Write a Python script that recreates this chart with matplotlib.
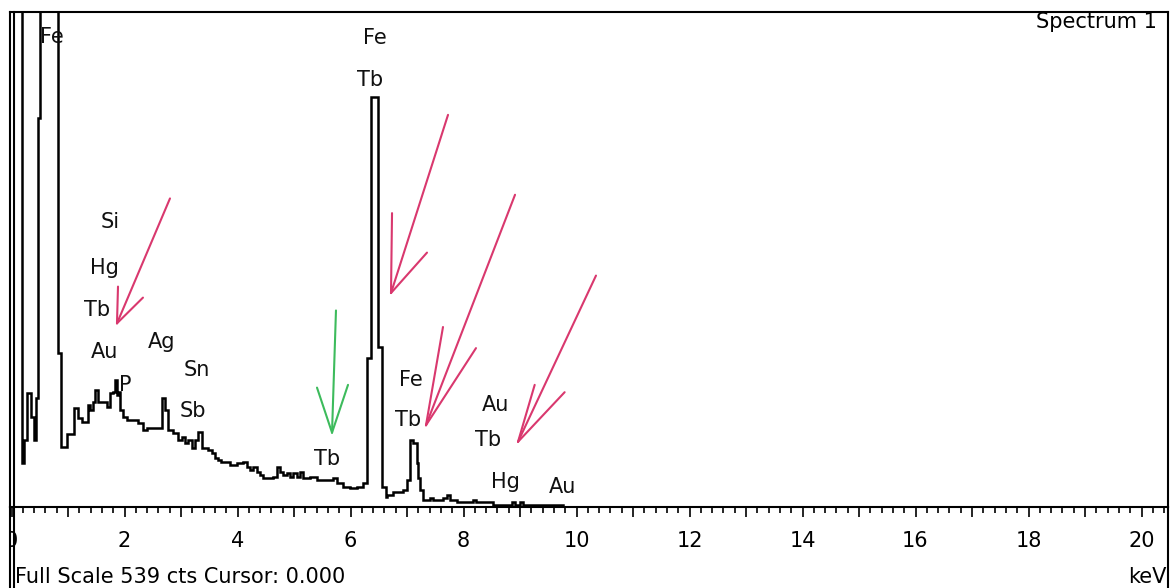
import matplotlib
matplotlib.use("Agg")
import matplotlib.pyplot as plt
from matplotlib.lines import Line2D
from matplotlib.ticker import MultipleLocator
from matplotlib.transforms import Bbox

# ---------------- data ----------------
energy_kev = [0.00, 0.19, 0.22, 0.28, 0.34, 0.39, 0.44, 0.47, 0.50, 0.82, 0.87,
              0.99, 1.11, 1.17, 1.24, 1.35, 1.39, 1.44, 1.48, 1.53, 1.69, 1.74,
              1.80, 1.83, 1.87, 1.89, 1.92, 1.97, 2.04, 2.24, 2.33, 2.40, 2.66,
              2.72, 2.77, 2.86, 2.95, 3.02, 3.07, 3.12, 3.19, 3.25, 3.30, 3.37,
              3.48, 3.55, 3.60, 3.65, 3.70, 3.87, 3.99, 4.10, 4.17, 4.22, 4.28,
              4.34, 4.40, 4.45, 4.63, 4.70, 4.75, 4.80, 4.88, 4.93, 4.98, 5.05,
              5.11, 5.16, 5.28, 5.41, 5.69, 5.76, 5.87, 5.99, 6.11, 6.22, 6.30,
              6.36, 6.49, 6.56, 6.63, 6.65, 6.75, 6.93, 7.00, 7.05, 7.11, 7.17,
              7.19, 7.23, 7.28, 7.41, 7.46, 7.64, 7.71, 7.76, 7.89, 8.16, 8.23,
              8.52, 8.86, 8.92, 9.00, 9.05, 9.76, 20.5]
counts = [1000, 48, 73, 124, 98, 73, 119, 424, 1500, 168, 65,
          80, 108, 97, 93, 111, 106, 114, 127, 114, 109, 124,
          125, 138, 122, 125, 106, 98, 95, 91, 84, 86, 119,
          106, 84, 81, 73, 76, 70, 73, 64, 73, 82, 64,
          62, 59, 53, 51, 49, 46, 48, 49, 44, 40, 44,
          38, 35, 32, 33, 44, 38, 35, 37, 33, 37, 33,
          38, 32, 33, 29, 32, 26, 22, 21, 22, 26, 162,
          446, 174, 22, 11, 13, 16, 19, 29, 73, 70, 48,
          32, 19, 8, 10, 8, 10, 13, 8, 5, 8, 5,
          2, 5, 2, 5, 2, 0, 0]
full_scale = 539
x_major = list(range(0, 21))
x_labels = [str(v) if v % 2 == 0 else "" for v in x_major]

# element labels: (text, keV, counts)
peak_labels = [("Fe", 0.72, 512), ("Fe", 6.43, 511), ("Tb", 6.34, 465),
               ("Si", 1.74, 310), ("Hg", 1.65, 260), ("Tb", 1.51, 214),
               ("Au", 1.65, 169), ("Ag", 2.66, 180), ("Sn", 3.28, 149),
               ("P", 2.02, 133), ("Sb", 3.21, 105), ("Tb", 5.58, 52),
               ("Fe", 7.07, 138), ("Tb", 7.02, 95), ("Au", 8.57, 111),
               ("Tb", 8.43, 73), ("Hg", 8.75, 27), ("Au", 9.76, 22)]

# hand-drawn arrows: tail, tip, head end a, head end b (keV, counts)
pink_arrows = [
    [(2.805, 336), (1.867, 200), (1.885, 240), (2.327, 228)],
    [(7.726, 427), (6.717, 233), (6.735, 320), (7.354, 277)],
    [(8.912, 340), (7.336, 89), (7.637, 196), (8.221, 173)],
    [(10.345, 252), (8.965, 71), (9.260, 133), (9.790, 125)],
]
green_arrows = [
    [(5.743, 214), (5.673, 81), (5.407, 130), (5.956, 133)],
]

# ---------------- figure ----------------
W, H = 1172, 588
fig = plt.figure(figsize=(W / 100, H / 100), dpi=100)
plt.rcParams['font.family'] = ['DejaVu Sans']
FS = 15


def fx(px):
    return px / W


def fy(py):
    return 1 - py / H


ax = fig.add_axes([fx(10), fy(507), fx(1168) - fx(10), fy(12) - fy(507)])
ax.set_xlim(-1.5 / 56.5, (1168 - 11.5) / 56.5)
ax.set_ylim(0, full_scale)

ax.plot(energy_kev, counts, drawstyle='steps-post', color='black', lw=1.8,
        solid_joinstyle='miter')

for arrows, col in ((pink_arrows, '#d9386e'), (green_arrows, '#3dbb5c')):
    for tail, tip, ha_, hb_ in arrows:
        for start in (tail, ha_, hb_):
            ax.plot([start[0], tip[0]], [start[1], tip[1]], color=col, lw=1.5,
                    solid_capstyle='round')

for txt, xv, yv in peak_labels:
    ax.text(xv, yv, txt, ha='center', va='center', fontsize=FS, color='#111111')

# axes styling
for side in ('top', 'left', 'right', 'bottom'):
    ax.spines[side].set_linewidth(1.5)
ax.set_yticks([])
ax.set_xticks(x_major, x_labels)
ax.xaxis.set_minor_locator(MultipleLocator(0.2))
ax.tick_params(axis='x', which='major', direction='out', length=7, width=1.2,
               labelsize=FS, pad=10)
ax.tick_params(axis='x', which='minor', direction='out', length=4, width=1.2)

# clip the "0" label at the frame edge
clip = Bbox.from_extents(10, 0, W, H)
for t in ax.xaxis.get_major_ticks():
    t.label1.set_clip_box(clip)
    t.label1.set_clip_on(True)

# outer frame continuing below the axis
frame_kw = dict(color='black', lw=1.5, transform=fig.transFigure)
fig.add_artist(Line2D([fx(10), fx(10)], [fy(507), fy(588)], **frame_kw))
fig.add_artist(Line2D([fx(14), fx(14)], [fy(12), fy(588)], **frame_kw))
fig.add_artist(Line2D([fx(1168), fx(1168)], [fy(507), fy(588)], **frame_kw))

fig.text(fx(1157), fy(22), "Spectrum 1", ha='right', va='center', fontsize=FS)
fig.text(fx(15), fy(577), f"Full Scale {full_scale} cts Cursor: 0.000",
         ha='left', va='center', fontsize=FS)
fig.text(fx(1166), fy(577), "keV", ha='right', va='center', fontsize=FS)

fig.savefig("out.png", dpi=100, facecolor='white')
